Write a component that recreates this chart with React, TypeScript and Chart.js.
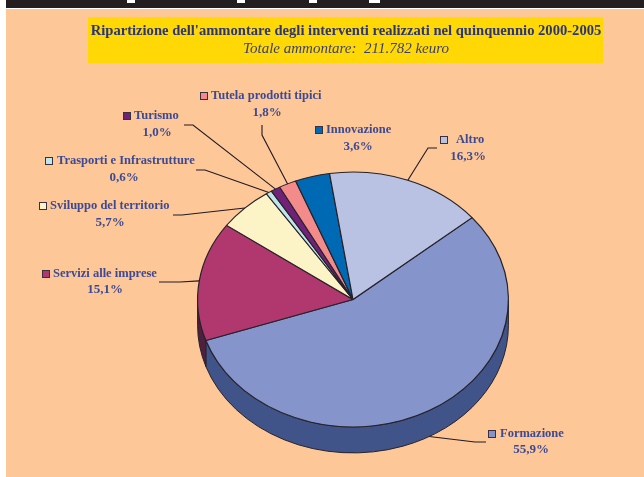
import React, { useEffect, useRef } from "react";
import { Chart, registerables } from "chart.js";

Chart.register(...registerables);

const categories = ["Formazione", "Servizi alle imprese", "Sviluppo del territorio", "Trasporti e Infrastrutture", "Turismo", "Tutela prodotti tipici", "Innovazione", "Altro"];
const shares = [55.9, 15.1, 5.7, 0.6, 1.0, 1.8, 3.6, 16.3];
const topColors = ["#8595cb", "#b0386e", "#fcf3c6", "#bfe6e8", "#6f2277", "#f48b8b", "#0069b3", "#b9c2e3"];
const wallColors = ["#40548a", "#4e1f3f", "#a89f78", "#7fa0a2", "#3f1445", "#a85c5c", "#00467a", "#7a82a0"];
const titleText = "Ripartizione dell'ammontare degli interventi realizzati nel quinquennio 2000-2005";
const subtitleText = "Totale ammontare:  211.782 keuro";

// Layout of the callouts: swatch x, name x, swatch centre y, percentage centre x, percentage centre y
const calloutBoxes = [
  [488, 500, 434, 531, 450],
  [42, 53, 274, 105, 290],
  [39, 50, 206, 110, 223],
  [45, 57, 161, 124, 178],
  [123, 134, 116, 157, 133],
  [200, 211, 96, 267, 113],
  [315, 326, 130, 358, 147],
  [440, 456, 140, 468, 157],
];
// Leader lines, drawn from the label end through the elbow to the middle of each slice
const calloutElbows: (number[][] | null)[] = [
  [[486, 442], [475, 442]],
  [[159, 282], [180, 282]],
  [[173, 215], [182, 215]],
  [[196, 170], [205, 170]],
  [[184, 125], [193, 125]],
  [[262, 125], [262, 135]],
  null,
  [[437, 148], [428, 148]],
];

const WIDTH = 644;
const HEIGHT = 477;
const Y_SQUASH = 127.5 / 155.5;
const DEPTH = 26;
const EDGE = "#26222a";
const LABEL_COLOR = "#3d4a93";
const TITLE_COLOR = "#2b3577";
const LABEL_FONT = "bold 12.5px 'Liberation Serif'";

const piePaperPlugin = {
  id: "piePaper",
  beforeDraw(chart: any) {
    const ctx = chart.ctx;
    ctx.save();
    ctx.fillStyle = "#ffffff";
    ctx.fillRect(0, 0, WIDTH, HEIGHT);
    ctx.fillStyle = "#fdc798";
    ctx.fillRect(6, 9, WIDTH - 6, HEIGHT - 9);
    ctx.fillStyle = "#231f20";
    ctx.fillRect(6, 0, WIDTH - 6, 8);
    ctx.fillStyle = "#ffffff";
    for (const [x, w] of [[127, 8], [237, 8], [309, 8], [369, 11]]) ctx.fillRect(x, 0, w, 3);
    ctx.fillStyle = "#ffd805";
    ctx.fillRect(88, 17, 515, 46);
    ctx.textAlign = "center";
    ctx.textBaseline = "alphabetic";
    ctx.fillStyle = TITLE_COLOR;
    ctx.font = "bold 14.6px 'Liberation Serif'";
    ctx.fillText(titleText, 346, 35, 511);
    ctx.font = "italic 15px 'Liberation Serif'";
    ctx.fillStyle = "#3a3f70";
    ctx.fillText(subtitleText, 346, 53);
    ctx.restore();
  },
  beforeDatasetsDraw(chart: any) {
    const ctx = chart.ctx;
    const arcs = chart.getDatasetMeta(0).data;
    const first = arcs[0];
    const cx = first.x;
    const cy = first.y;
    const rx = first.outerRadius;
    const ry = rx * Y_SQUASH;
    ctx.save();
    ctx.lineWidth = 1;
    ctx.strokeStyle = EDGE;
    arcs.forEach((arc: any, i: number) => {
      const span = arc.endAngle - arc.startAngle;
      const start = ((arc.startAngle % (2 * Math.PI)) + 2 * Math.PI) % (2 * Math.PI);
      const end = start + span;
      for (const off of [0, 2 * Math.PI]) {
        const lo = Math.max(start, off);
        const hi = Math.min(end, off + Math.PI);
        if (lo >= hi) continue;
        ctx.beginPath();
        ctx.ellipse(cx, cy, rx, ry, 0, lo, hi);
        ctx.ellipse(cx, cy + DEPTH, rx, ry, 0, hi, lo, true);
        ctx.closePath();
        ctx.fillStyle = wallColors[i];
        ctx.fill();
        ctx.stroke();
      }
    });
    ctx.restore();
  },
  beforeDatasetDraw(chart: any) {
    const ctx = chart.ctx;
    const first = chart.getDatasetMeta(0).data[0];
    ctx.save();
    ctx.translate(first.x, first.y);
    ctx.scale(1, Y_SQUASH);
    ctx.translate(-first.x, -first.y);
  },
  afterDatasetDraw(chart: any) {
    chart.ctx.restore();
  },
  afterDraw(chart: any) {
    const ctx = chart.ctx;
    const arcs = chart.getDatasetMeta(0).data;
    ctx.save();
    arcs.forEach((arc: any, i: number) => {
      const elbows = calloutElbows[i];
      if (elbows) {
        const mid = (arc.startAngle + arc.endAngle) / 2;
        const r = arc.outerRadius;
        const ex = arc.x + Math.cos(mid) * r;
        const onFront = Math.sin(mid) > 0;
        const ey = arc.y + Math.sin(mid) * r * Y_SQUASH + (onFront ? DEPTH : 0);
        ctx.beginPath();
        ctx.moveTo(elbows[0][0], elbows[0][1]);
        elbows.slice(1).forEach((p) => ctx.lineTo(p[0], p[1]));
        ctx.lineTo(ex, ey);
        ctx.strokeStyle = "#1f1a24";
        ctx.lineWidth = 1.1;
        ctx.stroke();
      }
      const [sx, tx, y, px, py] = calloutBoxes[i];
      ctx.fillStyle = topColors[i];
      ctx.fillRect(sx, y - 4, 8, 8);
      ctx.strokeStyle = "#3a3040";
      ctx.lineWidth = 1;
      ctx.strokeRect(sx + 0.5, y - 3.5, 7, 7);
      ctx.fillStyle = LABEL_COLOR;
      ctx.font = LABEL_FONT;
      ctx.textBaseline = "middle";
      ctx.textAlign = "left";
      ctx.fillText(categories[i], tx, y);
      ctx.textAlign = "center";
      ctx.font = "bold 13px 'Liberation Serif'";
      ctx.fillText(shares[i].toFixed(1).replace(".", ",") + "%", px, py);
    });
    ctx.restore();
  },
};

export default function App() {
  const ref = useRef<HTMLCanvasElement | null>(null);
  useEffect(() => {
    const chart = new Chart(ref.current as HTMLCanvasElement, {
      type: "pie",
      data: {
        labels: categories,
        datasets: [
          {
            data: shares,
            backgroundColor: topColors,
            borderColor: EDGE,
            borderWidth: 1.2,
            clip: false,
          } as any,
        ],
      },
      options: {
        responsive: false,
        animation: false,
        rotation: 50,
        layout: { padding: { left: 197, right: 135, top: 143.5, bottom: 21.5 } },
        plugins: { legend: { display: false }, tooltip: { enabled: false }, title: { display: false } },
      },
      plugins: [piePaperPlugin],
    });
    return () => chart.destroy();
  }, []);
  return (
    <div style={{ position: "fixed", left: 0, top: 0, width: WIDTH, height: HEIGHT }}>
      <canvas ref={ref} width={WIDTH} height={HEIGHT} style={{ display: "block" }} />
    </div>
  );
}
